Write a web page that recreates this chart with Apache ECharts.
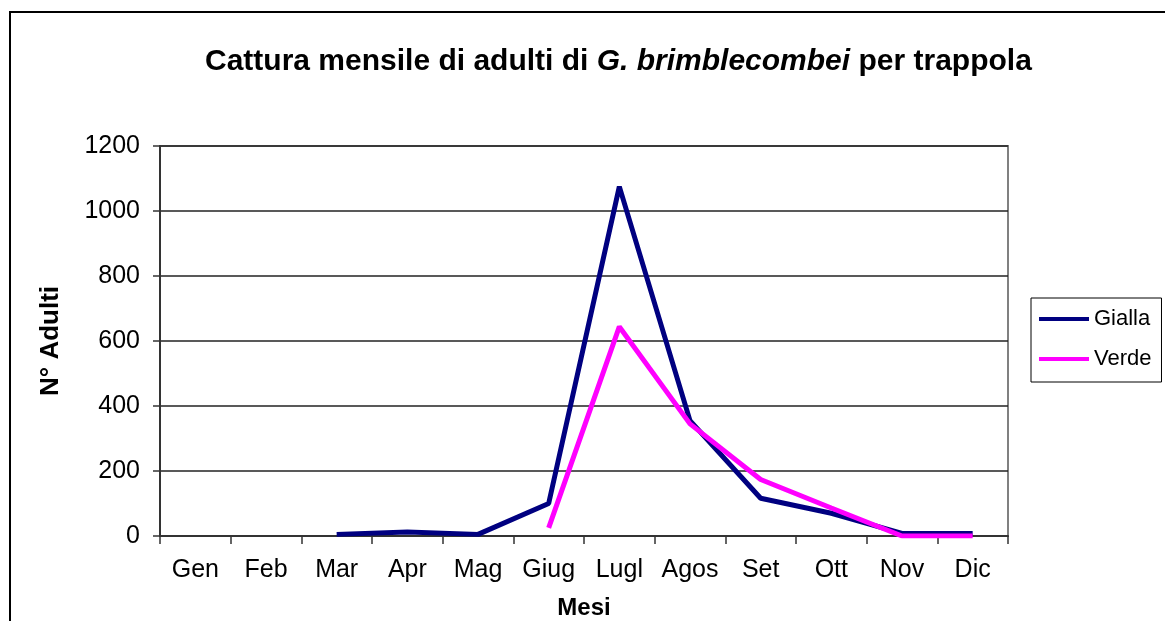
<!DOCTYPE html>
<html>
<head>
<meta charset="utf-8">
<script src="https://cdn.jsdelivr.net/npm/echarts@6/dist/echarts.min.js"></script>
<style>
    html, body { margin: 0; padding: 0; background: #fff; }
    #main { width: 1165px; height: 621px; }
</style>
</head>
<body>
<div id="main"></div>
<script>
// dati
var mesi = ['Gen', 'Feb', 'Mar', 'Apr', 'Mag', 'Giug', 'Lugl', 'Agos', 'Set', 'Ott', 'Nov', 'Dic'];
var gialla = [null, null, 5, 12, 5, 100, 1075, 355, 116, 70, 8, 8];
var verde = [null, null, null, null, null, 25, 644, 345, 174, 86, 0, 0];
var yTicks = [0, 200, 400, 600, 800, 1000, 1200];

var font = 'Liberation Sans, Arial, sans-serif';

function chartShow() {
    var myChart = echarts.init(document.getElementById('main'));
    var option = {
        backgroundColor: '#fff',
        animation: false,
        title: {
            text: '{a|Cattura mensile di adulti di }{b|G. brimblecombei}{a| per trappola}',
            left: 200,
            top: 42,
            textStyle: {
                rich: {
                    a: {fontFamily: font, fontSize: 30, fontWeight: 'bold', color: '#000'},
                    b: {fontFamily: font, fontSize: 30, fontWeight: 'bold', fontStyle: 'italic', color: '#000'}
                }
            }
        },
        // cornice esterna
        graphic: [{
            type: 'rect',
            shape: {x: 10, y: 12, width: 1300, height: 800},
            style: {fill: 'none', stroke: '#000', lineWidth: 2},
            silent: true
        }],
        legend: {
            left: 1031,
            top: 298,
            orient: 'vertical',
            padding: [10, 10, 12, 8],
            itemGap: 18,
            itemWidth: 50,
            itemHeight: 4,
            icon: 'rect',
            borderColor: '#000',
            borderWidth: 1,
            textStyle: {fontFamily: font, fontSize: 22, color: '#000'},
            data: ['Gialla', 'Verde']
        },
        grid: {
            left: 160,
            top: 146,
            right: 157,
            bottom: 85,
            containLabel: false,
            outerBoundsMode: 'none',
            show: true,
            borderColor: '#808080',
            borderWidth: 2
        },
        xAxis: {
            type: 'category',
            data: mesi,
            boundaryGap: true,
            name: 'Mesi',
            nameLocation: 'middle',
            nameGap: 60,
            nameTextStyle: {fontFamily: font, fontSize: 24, fontWeight: 'bold', color: '#000'},
            axisLine: {lineStyle: {color: '#333', width: 2}},
            axisTick: {show: true, inside: false, length: 8, lineStyle: {color: '#333', width: 1.5}},
            axisLabel: {fontFamily: font, fontSize: 25, color: '#000', margin: 22, interval: 0}
        },
        yAxis: {
            type: 'value',
            min: yTicks[0],
            max: yTicks[yTicks.length - 1],
            interval: 200,
            name: 'N° Adulti',
            nameLocation: 'middle',
            nameGap: 96,
            nameTextStyle: {fontFamily: font, fontSize: 26, fontWeight: 'bold', color: '#000'},
            axisLine: {show: true, lineStyle: {color: '#333', width: 2}},
            axisTick: {show: true, length: 7, lineStyle: {color: '#333', width: 1.5}},
            axisLabel: {
                fontFamily: font, fontSize: 25, color: '#000', margin: 20,
                formatter: function (v) { return String(v); }
            },
            splitLine: {lineStyle: {color: '#222', width: 1.5}}
        },
        series: [
            {
                name: 'Gialla',
                type: 'line',
                data: gialla,
                symbol: 'none',
                color: '#000080',
                lineStyle: {width: 5, color: '#000080'},
                z: 2
            },
            {
                name: 'Verde',
                type: 'line',
                data: verde,
                symbol: 'none',
                color: '#ff00ff',
                lineStyle: {width: 5, color: '#ff00ff'},
                z: 3
            }
        ]
    };
    myChart.setOption(option);
}

chartShow();
</script>
</body>
</html>
